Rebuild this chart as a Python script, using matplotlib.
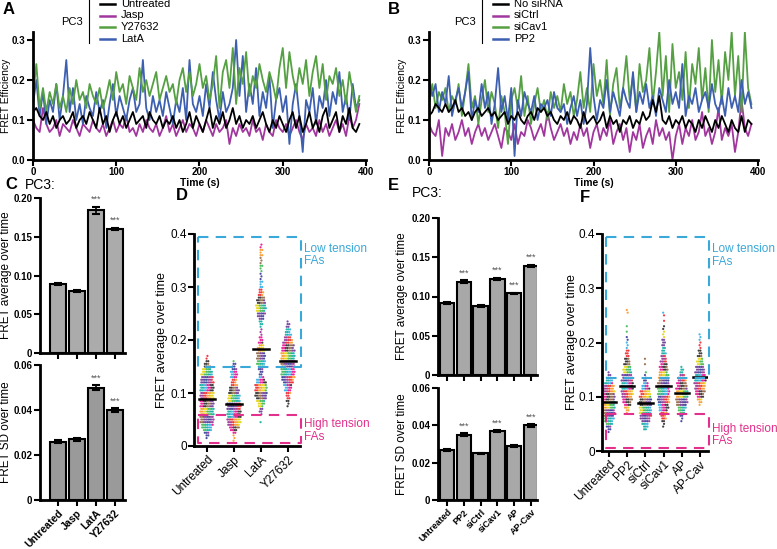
import numpy as np
import matplotlib.pyplot as plt
from matplotlib.lines import Line2D

plt.rcParams['font.family'] = ['Liberation Sans', 'DejaVu Sans']

W, H = 777, 549

# ---- traces (A, B), one sample every 4 s ----
time_s = np.arange(0, 396, 4)

a_untreated = [0.12, 0.13, 0.11, 0.10, 0.12, 0.09, 0.11, 0.08, 0.10, 0.11,
               0.09, 0.10, 0.12, 0.08, 0.10, 0.11, 0.09, 0.12, 0.10, 0.08,
               0.13, 0.09, 0.11, 0.07, 0.10, 0.12, 0.09, 0.11, 0.08, 0.10,
               0.12, 0.09, 0.10, 0.11, 0.08, 0.12, 0.10, 0.09, 0.11, 0.08,
               0.10, 0.09, 0.11, 0.08, 0.10, 0.07, 0.09, 0.12, 0.08, 0.11,
               0.09, 0.07, 0.10, 0.13, 0.08, 0.11, 0.09, 0.12, 0.08, 0.10,
               0.13, 0.09, 0.11, 0.08, 0.10, 0.09, 0.11, 0.08, 0.10, 0.12,
               0.09, 0.07, 0.10, 0.08, 0.11, 0.09, 0.07, 0.10, 0.12, 0.08,
               0.11, 0.07, 0.09, 0.12, 0.08, 0.10, 0.07, 0.11, 0.13, 0.08,
               0.10, 0.12, 0.07, 0.11, 0.09, 0.13, 0.08, 0.07, 0.09]
a_jasp = [0.10, 0.08, 0.07, 0.13, 0.09, 0.07, 0.08, 0.10, 0.06, 0.09,
          0.08, 0.07, 0.10, 0.08, 0.06, 0.09, 0.08, 0.07, 0.10, 0.08,
          0.07, 0.09, 0.06, 0.08, 0.10, 0.07, 0.09, 0.08, 0.11, 0.07,
          0.08, 0.06, 0.09, 0.07, 0.10, 0.08, 0.07, 0.09, 0.06, 0.08,
          0.11, 0.07, 0.09, 0.06, 0.08, 0.10, 0.07, 0.09, 0.08, 0.06,
          0.09, 0.07, 0.10, 0.08, 0.06, 0.09, 0.07, 0.08, 0.10, 0.04,
          0.08, 0.06, 0.09, 0.07, 0.08, 0.06, 0.10, 0.07, 0.08, 0.05,
          0.09, 0.07, 0.06, 0.10, 0.08, 0.07, 0.09, 0.06, 0.08, 0.10,
          0.07, 0.05, 0.09, 0.07, 0.08, 0.06, 0.10, 0.07, 0.09, 0.06,
          0.08, 0.10, 0.07, 0.09, 0.06, 0.11, 0.08, 0.10, 0.14]
a_y27632 = [0.16, 0.24, 0.13, 0.18, 0.12, 0.17, 0.14, 0.19, 0.13, 0.16,
            0.12, 0.18, 0.14, 0.20, 0.15, 0.17, 0.13, 0.19, 0.16, 0.14,
            0.18, 0.13, 0.16, 0.20, 0.15, 0.22, 0.17, 0.19, 0.14, 0.21,
            0.18, 0.15, 0.23, 0.17, 0.20, 0.16, 0.19, 0.22, 0.15, 0.18,
            0.21, 0.17, 0.19, 0.14, 0.20, 0.23, 0.17, 0.22, 0.16, 0.19,
            0.24, 0.18, 0.21, 0.15, 0.19, 0.26, 0.13, 0.22, 0.25, 0.18,
            0.28, 0.14, 0.23, 0.19, 0.27, 0.16, 0.21, 0.18, 0.24, 0.20,
            0.17, 0.22, 0.19, 0.15, 0.23, 0.28, 0.18, 0.27, 0.21, 0.17,
            0.23, 0.19, 0.25, 0.16, 0.22, 0.26, 0.18, 0.24, 0.15, 0.21,
            0.19, 0.23, 0.16, 0.20, 0.14, 0.22, 0.17, 0.12, 0.16]
a_lata = [0.14, 0.20, 0.11, 0.17, 0.09, 0.15, 0.12, 0.19, 0.10, 0.16,
          0.25, 0.12, 0.18, 0.10, 0.14, 0.09, 0.16, 0.13, 0.11, 0.17,
          0.12, 0.15, 0.08, 0.14, 0.19, 0.11, 0.16, 0.13, 0.10, 0.15,
          0.18, 0.12, 0.14, 0.25, 0.13, 0.10, 0.16, 0.12, 0.15, 0.11,
          0.17, 0.13, 0.09, 0.15, 0.12, 0.18, 0.10, 0.25, 0.14, 0.12,
          0.16, 0.11, 0.19, 0.13, 0.22, 0.15, 0.10, 0.17, 0.12, 0.14,
          0.18, 0.30, 0.16, 0.26, 0.12, 0.19, 0.14, 0.23, 0.11, 0.17,
          0.13, 0.21, 0.08, 0.15, 0.18, 0.12, 0.16, 0.04, 0.14, 0.19,
          0.11, 0.02, 0.15, 0.12, 0.18, 0.09, 0.16, 0.13, 0.20, 0.11,
          0.17, 0.14, 0.22, 0.12, 0.16, 0.10, 0.19, 0.13, 0.15]

b_nosirna = [0.11, 0.12, 0.14, 0.13, 0.12, 0.14, 0.12, 0.13, 0.15, 0.12,
             0.13, 0.11, 0.12, 0.10, 0.12, 0.13, 0.11, 0.12, 0.13, 0.11,
             0.12, 0.10, 0.11, 0.12, 0.09, 0.11, 0.10, 0.12, 0.10, 0.09,
             0.11, 0.12, 0.10, 0.13, 0.12, 0.13, 0.11, 0.12, 0.10, 0.09,
             0.11, 0.10, 0.12, 0.09, 0.11, 0.10, 0.08, 0.12, 0.09, 0.10,
             0.11, 0.09, 0.10, 0.12, 0.08, 0.11, 0.09, 0.10, 0.07, 0.10,
             0.09, 0.11, 0.08, 0.10, 0.09, 0.12, 0.10, 0.11, 0.15, 0.12,
             0.16, 0.10, 0.09, 0.11, 0.08, 0.10, 0.09, 0.11, 0.08, 0.10,
             0.09, 0.07, 0.10, 0.08, 0.11, 0.09, 0.07, 0.10, 0.08, 0.11,
             0.09, 0.07, 0.10, 0.08, 0.07, 0.11, 0.07, 0.10, 0.09]
b_sictrl = [0.09, 0.07, 0.06, 0.10, 0.01, 0.08, 0.06, 0.09, 0.05, 0.07,
            0.10, 0.06, 0.08, 0.04, 0.07, 0.09, 0.06, 0.08, 0.05, 0.07,
            0.09, 0.06, 0.03, 0.08, 0.07, 0.05, 0.09, 0.04, 0.07, 0.06,
            0.10, 0.08, 0.05, 0.07, 0.09, 0.06, 0.12, 0.08, 0.05, 0.07,
            0.09, 0.06, 0.08, 0.04, 0.07, 0.05, 0.09, 0.06, 0.08, 0.03,
            0.07, 0.09, 0.05, 0.08, 0.06, 0.10, 0.04, 0.07, 0.09, 0.05,
            0.08, 0.02, 0.07, 0.05, 0.09, 0.03, 0.06, 0.08, 0.04, 0.10,
            0.06, 0.08, 0.05, 0.07, 0.00, 0.06, 0.09, 0.04, 0.08, 0.06,
            0.10, 0.05, 0.07, 0.12, 0.06, 0.08, 0.04, 0.07, 0.13, 0.05,
            0.08, 0.06, 0.09, 0.02, 0.07, 0.15, 0.08, 0.06, 0.09]
b_sicav1 = [0.14, 0.19, 0.13, 0.17, 0.15, 0.18, 0.12, 0.16, 0.14, 0.19,
            0.11, 0.17, 0.24, 0.13, 0.16, 0.09, 0.15, 0.20, 0.12, 0.17,
            0.14, 0.08, 0.16, 0.12, 0.04, 0.15, 0.18, 0.13, 0.21, 0.11,
            0.16, 0.09, 0.14, 0.18, 0.12, 0.15, 0.10, 0.17, 0.13, 0.16,
            0.12, 0.19, 0.14, 0.17, 0.11, 0.15, 0.22, 0.13, 0.18, 0.12,
            0.24, 0.16, 0.20, 0.14, 0.25, 0.11, 0.19, 0.23, 0.13, 0.18,
            0.26, 0.15, 0.21, 0.12, 0.24, 0.17, 0.20, 0.28, 0.14, 0.22,
            0.32, 0.16, 0.26, 0.12, 0.29, 0.18, 0.22, 0.15, 0.27, 0.13,
            0.24, 0.19, 0.28, 0.15, 0.23, 0.12, 0.30, 0.17, 0.25, 0.14,
            0.27, 0.20, 0.32, 0.16, 0.26, 0.12, 0.32, 0.18, 0.14]
b_pp2 = [0.20, 0.16, 0.19, 0.12, 0.17, 0.14, 0.21, 0.11, 0.15, 0.18,
         0.13, 0.17, 0.22, 0.10, 0.15, 0.12, 0.19, 0.13, 0.17, 0.09,
         0.14, 0.23, 0.12, 0.16, 0.10, 0.18, 0.01, 0.15, 0.11, 0.17,
         0.14, 0.12, 0.16, 0.10, 0.14, 0.13, 0.15, 0.11, 0.17, 0.13,
         0.12, 0.14, 0.09, 0.13, 0.16, 0.11, 0.15, 0.09, 0.14, 0.28,
         0.16, 0.10, 0.15, 0.13, 0.20, 0.12, 0.17, 0.14, 0.11, 0.18,
         0.15, 0.13, 0.22, 0.12, 0.17, 0.14, 0.19, 0.13, 0.16, 0.11,
         0.18, 0.15, 0.12, 0.20, 0.14, 0.17, 0.13, 0.24, 0.11, 0.16,
         0.14, 0.18, 0.12, 0.15, 0.17, 0.13, 0.19, 0.14, 0.12, 0.16,
         0.11, 0.18, 0.13, 0.16, 0.12, 0.20, 0.14, 0.17, 0.13]

# ---- bar panels (C, E) ----
c_names = ['Untreated', 'Jasp', 'LatA', 'Y27632']
c_mean = [0.089, 0.080, 0.184, 0.160]
c_mean_err = [0.001, 0.001, 0.004, 0.001]
c_sd = [0.026, 0.027, 0.050, 0.040]
c_sd_err = [0.0006, 0.0006, 0.0010, 0.0007]
c_mean_stars = [False, False, True, True]
c_sd_stars = [False, False, True, True]

e_names = ['Untreated', 'PP2', 'siCtrl', 'siCav1', 'AP', 'AP-Cav']
e_mean = [0.092, 0.119, 0.088, 0.122, 0.104, 0.139]
e_mean_err = [0.001, 0.0015, 0.001, 0.0015, 0.001, 0.0015]
e_sd = [0.027, 0.035, 0.025, 0.037, 0.029, 0.040]
e_sd_err = [0.0005, 0.0007, 0.0004, 0.0007, 0.0005, 0.0007]
e_mean_stars = [False, True, False, True, True, True]
e_sd_stars = [False, True, False, True, False, True]

# ---- dot plots (D, F): dots counted per 0.005 band, from the band start ----
BIN = 0.005
d_names = ['Untreated', 'Jasp', 'LatA', 'Y27632']
d_start = [0.015, 0.010, 0.045, 0.075]
d_counts = [
    [1, 2, 3, 5, 6, 7, 8, 8, 8, 8, 8, 8, 8, 8, 8, 8, 8, 8, 8, 8, 8, 8,
     7, 7, 7, 6, 5, 4, 3, 2, 1, 1],
    [1, 1, 1, 2, 4, 6, 7, 8, 8, 8, 8, 8, 8, 8, 8, 7, 7, 7, 6, 6, 5, 4,
     3, 3, 4, 4, 4, 3, 2, 2, 1],
    [1, 0, 0, 1, 2, 2, 3, 4, 5, 6,
     7, 7, 7, 7, 7, 6, 5, 3, 2, 2,
     3, 4, 5, 5, 5, 5, 5, 4, 4, 3,
     3, 2, 2, 1, 1, 1, 1, 2, 2, 3,
     4, 5, 5, 6, 6, 5, 5, 4, 3, 3,
     2, 2, 1, 2, 1, 1, 1, 1, 1, 2,
     1, 1, 1, 2, 1, 2, 1, 1],
    [1, 1, 2, 2, 2, 3, 4, 4, 5, 6,
     7, 8, 8, 8, 8, 8, 8, 8, 8, 8,
     8, 8, 7, 7, 6, 5, 4, 4, 3, 3,
     2, 2, 1],
]
d_means = [0.088, 0.080, 0.183, 0.160]

f_names = ['Untreated', 'PP2', 'siCtrl', 'siCav1', 'AP', 'AP-Cav']
f_start = [0.035, 0.070, 0.040, 0.045, 0.055, 0.085]
f_counts = [
    [1, 2, 3, 4, 5, 6, 6, 7, 7, 7, 7, 7, 7, 7, 7, 7, 6, 6, 5, 4, 3, 2, 1],
    [1, 2, 3, 4, 5, 6, 6, 7, 7, 7, 7, 7, 7, 6, 6, 5, 5, 4, 4, 3,
     3, 2, 2, 2, 1, 1, 1, 1, 1, 0, 1, 0, 1, 0, 0, 0, 0, 1, 1],
    [2, 3, 4, 5, 6, 7, 7, 7, 7, 7, 7, 7, 7, 6, 6, 5, 4, 3, 2, 1,
     1, 1, 0, 0, 1, 0, 1],
    [1, 1, 2, 3, 3, 4, 5, 6, 6, 7, 7, 7, 7, 7, 7, 7, 7, 6, 6, 6,
     5, 5, 5, 4, 4, 3, 3, 3, 2, 2, 2, 2, 2, 1, 1, 1, 1, 1, 0, 1,
     0, 1, 1],
    [1, 1, 2, 3, 4, 5, 6, 7, 7, 7, 7, 7, 7, 6, 6, 5, 4, 3, 2, 2, 1],
    [1, 2, 3, 4, 5, 6, 6, 6, 7, 7, 7, 6, 6, 5, 5, 4, 4, 3, 3, 2,
     2, 1, 1, 1, 1, 1, 1],
]
f_means = [0.091, 0.119, 0.088, 0.120, 0.107, 0.136]

DOT_COLORS = ['#2e3192', '#92278f', '#ed1c24', '#f7941d', '#e3d200', '#39b54a',
              '#00a99d', '#27aae1', '#ec008c', '#231f20', '#8b5e3c', '#662d91']
PURPLE, GREEN, BLUE = '#a0369e', '#55a043', '#3d5fb0'
CYAN, MAGENTA = '#3aa8d8', '#e2308c'

fig = plt.figure(figsize=(W / 100, H / 100), dpi=100)


def add_ax(left, top, right, bottom):
    # axes placed by pixel edges
    return fig.add_axes([left / W, 1 - bottom / H, (right - left) / W, (bottom - top) / H])


def clean(ax, lw=2.0, size=7, bold=True):
    for s in ['top', 'right']:
        ax.spines[s].set_visible(False)
    for s in ['left', 'bottom']:
        ax.spines[s].set_linewidth(lw)
    ax.tick_params(width=1.5, length=4, pad=1.5, labelsize=size)
    if bold:
        for t in ax.get_xticklabels() + ax.get_yticklabels():
            t.set_fontweight('bold')


def ylabel_at(ax, text, x_px, left, right, size):
    ax.set_ylabel(text, fontsize=size)
    ax.yaxis.set_label_coords((x_px - left) / (right - left), 0.5)


def trace_panel(left, right, series, colors):
    ax = add_ax(left, 32, right, 160)
    for y, c in zip(series, colors):
        ax.plot(time_s, y, color=c, lw=1.3)
    ax.set_xlim(0, 400)
    ax.set_ylim(0, 0.32)
    ax.set_xticks([0, 100, 200, 300, 400])
    ax.set_yticks([0, 0.1, 0.2, 0.3])
    ax.set_yticklabels(['0.0', '0.1', '0.2', '0.3'])
    ax.set_xlabel('Time (s)', fontsize=7.5, fontweight='bold', labelpad=1)
    ylabel_at(ax, 'FRET Efficiency', left - 22, left, right, 7.5)
    clean(ax)
    ax.tick_params(axis='x', pad=1)
    return ax


def legend(vline_x, names, colors):
    fig.text((vline_x - 6) / W, 1 - 22 / H, 'PC3', fontsize=8, ha='right', va='center')
    fig.add_artist(Line2D([vline_x / W] * 2, [1 - 0 / H, 1 - 43 / H], color='k', lw=0.8))
    for k, (n, c) in enumerate(zip(names, colors)):
        y = 1 - (4 + 11.5 * k) / H
        fig.add_artist(Line2D([(vline_x + 11) / W, (vline_x + 26) / W], [y, y], color=c, lw=1.8))
        fig.text((vline_x + 32) / W, y, n, fontsize=8, va='center')


def bar_panel(left, top, right, bottom, first, step, vals, errs, stars, ymax, yticks,
              ylabels, ylabel, label_x, color, names=None, xsize=7):
    ax = add_ax(left, top, right, bottom)
    x = np.arange(len(vals))
    ax.bar(x, vals, width=0.86, color=color, edgecolor='k', linewidth=1.5, zorder=2)
    ax.errorbar(x, vals, yerr=errs, fmt='none', ecolor='k', elinewidth=1.2,
                capsize=3, capthick=1.5, zorder=3)
    for xi, v, e, s in zip(x, vals, errs, stars):
        if s:
            ax.text(xi, v + e + ymax * 0.02, '***', ha='center', va='bottom',
                    fontsize=6.5, color='#555555', clip_on=False)
    ax.set_xlim((left - first) / step, (right - first) / step)
    ax.set_ylim(0, ymax)
    ax.set_yticks(yticks)
    ax.set_yticklabels(ylabels)
    ax.set_xticks(x)
    if names is None:
        ax.set_xticklabels([])
    else:
        ax.set_xticklabels(names, rotation=45, ha='right', rotation_mode='anchor')
    ylabel_at(ax, ylabel, label_x, left, right, 8.5)
    clean(ax, size=xsize)
    for t in ax.get_yticklabels():
        t.set_fontsize(7)
    return ax


def dot_panel(left, right, bottom, first, step, starts, counts, means, names,
              dx, half, box_lo, box_hi_top, label_x):
    ax = add_ax(left, 234, right, bottom)
    for i, (start, cnt) in enumerate(zip(starts, counts)):
        xs, ys, cs = [], [], []
        for r, n in enumerate(cnt):
            offs = (np.arange(n) - (n - 1) / 2) * dx + (r % 2 - 0.5) * dx * 0.5
            for j, o in enumerate(offs):
                xs.append(i + o)
                ys.append(start + r * BIN)
                cs.append(DOT_COLORS[(r // 3 * 5 + j // 2 + i * 3) % len(DOT_COLORS)])
        ax.scatter(xs, ys, s=2.5, c=cs, alpha=0.85, linewidths=0, zorder=2)
        ax.plot([i - half, i + half], [means[i]] * 2, color='k', lw=1.8, zorder=3)
    x0 = (left - first) / step
    x1 = (right - first) / step
    bx0 = x0 + 4.0 / step
    bx1 = x1 + 1.0 / step
    ax.plot([bx0, bx1, bx1, bx0, bx0], [0.394, 0.394, box_hi_top, box_hi_top, 0.394],
            color=CYAN, lw=1.5, dashes=(5, 3.5), clip_on=False, zorder=4)
    ax.plot([bx0, bx1, bx1, bx0, bx0], [box_lo, box_lo, 0.005, 0.005, box_lo],
            color=MAGENTA, lw=1.5, dashes=(5, 3.5), clip_on=False, zorder=4)
    ax.set_xlim(x0, x1)
    ax.set_ylim(0, 0.4)
    ax.set_yticks([0, 0.1, 0.2, 0.3, 0.4])
    ax.set_yticklabels(['0', '0.1', '0.2', '0.3', '0.4'])
    ax.set_xticks(np.arange(len(names)))
    ax.set_xticklabels(names, rotation=45, ha='right', rotation_mode='anchor')
    ylabel_at(ax, 'FRET average over time', label_x, left, right, 9)
    clean(ax, size=8.5, bold=False)
    ax.tick_params(axis='y', pad=1)
    tx = (right + 4 - left) / (right - left)
    trans = ax.get_yaxis_transform()
    ax.text(tx, 0.36, 'Low tension\nFAs', transform=trans, fontsize=8.5, color=CYAN,
            va='center', linespacing=1.05)
    ax.text(tx, 0.029, 'High tension\nFAs', transform=trans, fontsize=8.5, color=MAGENTA,
            va='center', linespacing=1.05)
    return ax


# A and B
trace_panel(33, 366, [a_jasp, a_lata, a_y27632, a_untreated], [PURPLE, BLUE, GREEN, 'k'])
trace_panel(429, 758, [b_sictrl, b_sicav1, b_pp2, b_nosirna], [PURPLE, GREEN, BLUE, 'k'])
legend(89, ['Untreated', 'Jasp', 'Y27632', 'LatA'], ['k', PURPLE, GREEN, BLUE])
legend(482, ['No siRNA', 'siCtrl', 'siCav1', 'PP2'], ['k', PURPLE, GREEN, BLUE])

# C
bar_panel(40, 198, 125, 353, 58, 19, c_mean, c_mean_err, c_mean_stars, 0.20,
          [0, 0.05, 0.10, 0.15, 0.20], ['0', '0.05', '0.10', '0.15', '0.20'],
          'FRET average over time', 12, '#ababab')
bar_panel(40, 365, 125, 500, 58, 19, c_sd, c_sd_err, c_sd_stars, 0.06,
          [0, 0.02, 0.04, 0.06], ['0', '0.02', '0.04', '0.06'],
          'FRET SD over time', 12, '#9a9a9a', names=c_names, xsize=7.5)

# E
bar_panel(438, 218, 537, 375, 447, 16.8, e_mean, e_mean_err, e_mean_stars, 0.20,
          [0, 0.05, 0.10, 0.15, 0.20], ['0', '0.05', '0.10', '0.15', '0.20'],
          'FRET average over time', 408, '#a8a8a8')
bar_panel(438, 388, 537, 500, 447, 16.8, e_sd, e_sd_err, e_sd_stars, 0.06,
          [0, 0.02, 0.04, 0.06], ['0', '0.02', '0.04', '0.06'],
          'FRET SD over time', 408, '#a8a8a8', names=e_names, xsize=6.5)

# D and F
dot_panel(194, 300, 446, 207, 27, d_start, d_counts, d_means, d_names,
          0.065, 0.3, 0.058, 0.149, 168)
dot_panel(602, 708, 451, 609, 18.2, f_start, f_counts, f_means, f_names,
          0.095, 0.4, 0.068, 0.135, 578)

# panel letters
for letter, x, y in [('A', 3, 10), ('B', 388, 10), ('C', 5, 184), ('D', 176, 196),
                     ('E', 388, 185), ('F', 580, 197)]:
    fig.text(x / W, 1 - y / H, letter, fontsize=12, fontweight='bold', va='center')
fig.text(25 / W, 1 - 185 / H, 'PC3:', fontsize=10, va='center')
fig.text(412 / W, 1 - 193 / H, 'PC3:', fontsize=10, va='center')

fig.savefig('out.png', dpi=100)
